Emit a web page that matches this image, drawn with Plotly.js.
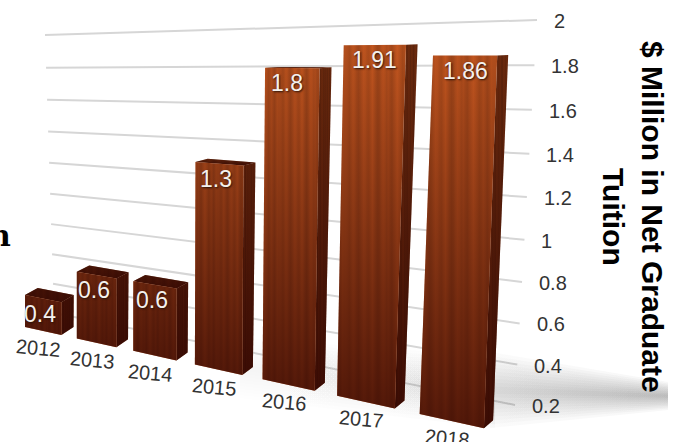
<!DOCTYPE html>
<html><head><meta charset="utf-8">
<script src="https://cdn.plot.ly/plotly-3.0.1.min.js"></script>
<style>html,body{margin:0;padding:0;background:#fff}#c{width:679px;height:442px}</style></head>
<body><div id="c"></div>
<script>
const years = ["2012","2013","2014","2015","2016","2017","2018"];
const values = [0.4,0.6,0.6,1.3,1.8,1.91,1.86];
const tickValues = [0.2,0.4,0.6,0.8,1,1.2,1.4,1.6,1.8,2];
const tickLabels = ["0.2","0.4","0.6","0.8","1","1.2","1.4","1.6","1.8","2"];
const grain = [1,.97,.93,.99,1.05,1.02,.95,.9,.94,1.01,1.07,1.04,.98,.96,1.03,1.09,1.02,.94,.89,.92,1,1.06,1.03,.97,1.01,.95,.91,.98,1.04,1.1,1.05,.99,.93,.96,1.02,.97,.9,.95,1.03,1];

const vMin = 0.2, vMax = 2, barFrac = 0.71;

// Perspective model of the chart: (category, value) -> picture position
function front(c, v){
  const t = v - vMin;
  return [(25 + 48.7*c)/(1 - 0.0407*c) + t*8*Math.pow(Math.min(c,6)/6,4), (327 - 2.35*c - 164*t)/(1 - 0.0407*c - 0.0149*t)];
}
function solid(c, v, depth){
  const p = front(c, v), w = (v - vMin)/(vMax - vMin);
  return [p[0] + depth*(12.5 - 0.5*c + 2*w), p[1] - depth*(8 - 8*w)];
}
// wall holding the gridlines, from its four corners
function wall(u, v){
  const w0 = (v - vMin)/(vMax - vMin), w = w0*0.94/(1 - 0.06*w0);
  const lx = 54 + (45-54)*w, ly = 313 + (35-313)*w, rx = 515 + (537-515)*w, ry = 405 + (20-405)*w;
  return [lx + (rx-lx)*u, ly + (ry-ly)*u];
}

const traces = [];
function poly(pts, extra){
  const xs = pts.map(p=>p[0]).concat(pts[0][0]), ys = pts.map(p=>p[1]).concat(pts[0][1]);
  traces.push(Object.assign({type:'scatter',mode:'lines',x:xs,y:ys,fill:'toself',line:{width:0},hoverinfo:'skip',showlegend:false},extra));
}
function stripes(rot, rgb){
  return grain.map((g,i)=>{
    const b = grain[(i+rot)%grain.length];
    return [i/(grain.length-1), `rgb(${Math.min(255,rgb[0]*b)|0},${Math.min(255,rgb[1]*b)|0},${Math.min(255,rgb[2]*b)|0})`];
  });
}
function shadeOverlay(pts, v){
  const alpha = x => 0.72*(1 - (x - vMin)/(vMax - vMin));
  const ys = pts.map(p=>p[1]);
  poly(pts,{fillcolor:'rgba(0,0,0,0)',fillgradient:{type:'vertical',start:Math.min(...ys),stop:Math.max(...ys),
    colorscale:[[0,`rgba(40,0,0,${alpha(v)})`],[1,`rgba(40,0,0,.72)`]]}});
}
function woodFace(pts, rot, rgb, v){
  const xs = pts.map(p=>p[0]);
  poly(pts,{fillcolor:'rgb(120,50,20)',fillgradient:{type:'horizontal',start:Math.min(...xs),stop:Math.max(...xs),colorscale:stripes(rot,rgb)}});
  shadeOverlay(pts,v);
}

// gridlines
tickValues.forEach(v=>{
  const a = wall(0,v), b = wall(1,v);
  traces.push({type:'scatter',mode:'lines',x:[a[0],b[0]],y:[a[1],b[1]],line:{color:'#d6d6d6',width:2},hoverinfo:'skip',showlegend:false});
});

// soft floor shadow
function softShadow(x0,y0,x1,y1,hw0,hw1,alpha0,alpha1,n){
  for(let k=0;k<n;k++){
    const f = 1 - k/n, up=[], dn=[];
    for(let s=0;s<=12;s++){
      const u=s/12, x=x0+(x1-x0)*u, y=y0+(y1-y0)*u, h=(hw0+(hw1-hw0)*u)*f;
      up.push([x,y-h]); dn.unshift([x,y+h]);
    }
    poly(up.concat(dn),{fillcolor:'rgba(0,0,0,.02)',fillgradient:{type:'horizontal',start:x0,stop:x1,
      colorscale:[[0,`rgba(0,0,0,${alpha0})`],[1,`rgba(0,0,0,${alpha1})`]]}});
  }
}
softShadow(240,368,495,392,30,36,.004,.014,10);
softShadow(490,390,668,396,38,14,.017,.03,10);

// bars, far to near
years.forEach((yr,i)=>{
  const v = values[i], c0 = i, c1 = i + barFrac;
  woodFace([solid(c1,vMin,0),solid(c1,vMin,1),solid(c1,v,1),solid(c1,v,0)], i*3, [105,42,14], v);
  woodFace([solid(c0,v,0),solid(c1,v,0),solid(c1,v,1),solid(c0,v,1)], i*2, [110,46,16], v);
  woodFace([solid(c0,vMin,0),solid(c1,vMin,0),solid(c1,v,0),solid(c0,v,0)], i*7, [184,82,30], v);
});

const txt = (x,y,text,size,color,extra)=>Object.assign({xref:'x',yref:'y',x,y,text,showarrow:false,font:{family:'Liberation Sans, Arial',size,color}},extra);
const annotations = [];
years.forEach((yr,i)=>{
  const p = front(i+barFrac/2, vMin), q = front(i, values[i]), r = front(i+barFrac/2, values[i]);
  annotations.push(txt(p[0]-4,p[1]+17,yr,20,'#333',{textangle:5}));
  annotations.push(txt(q[0]-3+1.8*i,r[1]+15,String(values[i]),23,'#fff',{xanchor:'left',font:{family:'Liberation Sans, Arial',size:23,color:'#f4f1ee',shadow:'1px 1px 2px #2a1208'}}));
});
tickValues.forEach((v,i)=>{
  const e = wall(1,v);
  annotations.push(txt(e[0]+15,e[1]+1,tickLabels[i],20,'#333',{xanchor:'left'}));
});
annotations.push({xref:'paper',yref:'paper',x:671/679,y:1-217/442,text:'<b>$ Million in Net Graduate<br>Tuition</b>',textangle:90,showarrow:false,font:{family:'Liberation Sans',size:30,color:'#000'}});
annotations.push({xref:'paper',yref:'paper',x:13/679,y:1-235/442,xanchor:'right',text:'<b>n</b>',showarrow:false,font:{family:'DejaVu Serif',size:30,color:'#000'}});

const layout = {width:679,height:442,margin:{l:0,r:0,t:0,b:0},paper_bgcolor:'#fff',plot_bgcolor:'#fff',showlegend:false,
  xaxis:{range:[0,679],visible:false,fixedrange:true},
  yaxis:{range:[442,0],visible:false,fixedrange:true},
  annotations};
Plotly.newPlot('c',traces,layout,{displayModeBar:false,staticPlot:true});
</script></body></html>
